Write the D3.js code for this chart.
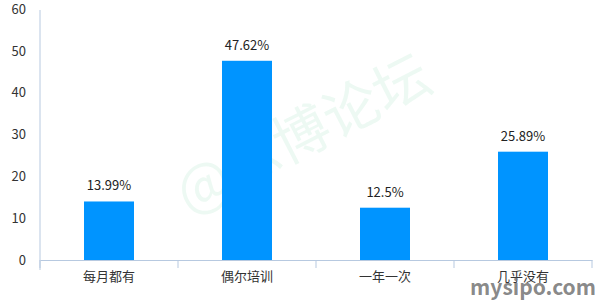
<!DOCTYPE html>
<html>
<head>
<meta charset="utf-8">
<script src="https://cdn.jsdelivr.net/npm/d3@7"></script>
<style>
  body { margin: 0; background: #fff; }
  text { font-family: "Microsoft YaHei", "Noto Sans CJK SC", "Open Sans", sans-serif; }
</style>
</head>
<body>
<div id="chart"></div>
<script>
var width = 600,
  height = 300;

var categories = ["每月都有", "偶尔培训", "一年一次", "几乎没有"];
var values = [13.99, 47.62, 12.5, 25.89];
var yTicks = [0, 10, 20, 30, 40, 50, 60];

var margin = { left: 40, right: 8, top: 9, bottom: 40 };

var svg = d3.select("#chart")
  .append("svg")
  .attr("width", width)
  .attr("height", height);

// watermark
svg.append("text")
  .attr("transform", "translate(305,138) rotate(-27)")
  .attr("text-anchor", "middle")
  .attr("dominant-baseline", "middle")
  .attr("font-size", 56)
  .attr("fill", "#16b86a")
  .attr("fill-opacity", 0.08)
  .text("@思博论坛");

var x = d3.scaleBand()
  .domain(categories)
  .range([margin.left, width - margin.right])
  .paddingInner(0)
  .paddingOuter(0);

var y = d3.scaleLinear()
  .domain([0, 60])
  .range([height - margin.bottom, margin.top]);

var barWidth = 50;
var axisColor = "#b7c9e0";

// y axis
var yAxis = svg.append("g")
  .attr("transform", "translate(" + margin.left + ",0)")
  .call(d3.axisLeft(y).tickValues(yTicks).tickSize(0).tickPadding(14));
yAxis.select(".domain").remove();
yAxis.selectAll("text")
  .attr("font-size", 13)
  .attr("fill", "#333");
svg.append("line")
  .attr("x1", margin.left).attr("x2", margin.left)
  .attr("y1", 10).attr("y2", height - margin.bottom + 10)
  .attr("stroke", axisColor);

// x axis
var xAxis = svg.append("g")
  .attr("transform", "translate(0," + y(0) + ")")
  .call(d3.axisBottom(x).tickSize(0).tickPadding(12));
xAxis.select(".domain").attr("stroke", axisColor);
xAxis.selectAll("text")
  .attr("font-size", 13)
  .attr("fill", "#333");

var bounds = categories.map(function (d) { return x(d); }).concat([x(categories[categories.length - 1]) + x.bandwidth()]);
svg.append("g")
  .selectAll("line")
  .data(bounds)
  .enter()
  .append("line")
  .attr("x1", function (d) { return d; })
  .attr("x2", function (d) { return d; })
  .attr("y1", y(0))
  .attr("y2", y(0) + 8)
  .attr("stroke", axisColor);

// bars
svg.append("g")
  .selectAll("rect")
  .data(values)
  .enter()
  .append("rect")
  .attr("x", function (d, i) { return x(categories[i]) + (x.bandwidth() - barWidth) / 2; })
  .attr("y", function (d) { return y(d); })
  .attr("width", barWidth)
  .attr("height", function (d) { return y(0) - y(d); })
  .attr("fill", "#0094ff");

// value labels
svg.append("g")
  .selectAll("text")
  .data(values)
  .enter()
  .append("text")
  .attr("x", function (d, i) { return x(categories[i]) + x.bandwidth() / 2; })
  .attr("y", function (d) { return y(d) - 11; })
  .attr("text-anchor", "middle")
  .attr("font-size", 13)
  .attr("fill", "#222")
  .text(function (d) { return d + "%"; });

// site mark
svg.append("text")
  .attr("x", 596)
  .attr("y", 295)
  .attr("text-anchor", "end")
  .attr("font-family", "'Liberation Sans Narrow', 'DejaVu Sans Condensed', sans-serif")
  .attr("font-weight", "bold")
  .attr("font-size", 21)
  .attr("fill", "#7a7a7a")
  .attr("fill-opacity", 0.9)
  .text("mysipo.com");
</script>
</body>
</html>
